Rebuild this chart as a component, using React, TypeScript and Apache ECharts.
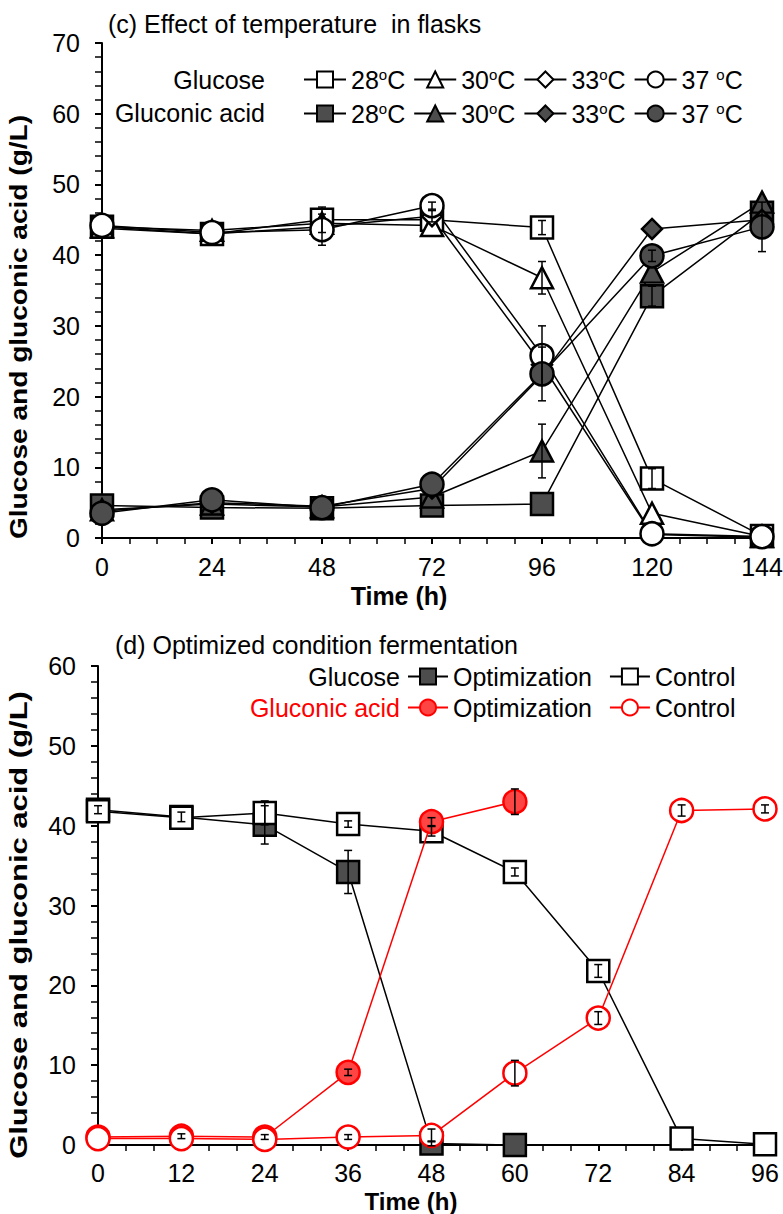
import React, { useEffect, useRef } from "react";
import * as echarts from "echarts";

const FONT = '"Liberation Sans", Arial, Helvetica, sans-serif';

// ---------- Panel (c): effect of temperature in flasks ----------
const hoursC = [0, 24, 48, 72, 96, 120, 144];
const tempLabels = ["28", "30", "33", "37"];
const glucose28 = [44.0, 43.0, 45.0, 45.0, 43.9, 8.4, 0.3];
const glucose30 = [44.0, 43.5, 44.5, 44.2, 36.8, 3.5, 0.2];
const glucose33 = [43.8, 43.0, 44.0, 45.5, 24.5, 0.5, 0.1];
const glucose37 = [44.2, 43.2, 43.6, 47.0, 25.8, 0.6, 0.2];
const gluconic28 = [4.6, 4.3, 4.2, 4.6, 4.8, 34.2, 46.0];
const gluconic30 = [4.0, 4.8, 4.4, 5.8, 12.3, 37.6, 47.5];
const gluconic33 = [3.8, 5.0, 4.5, 7.0, 23.0, 43.7, 45.0];
const gluconic37 = [3.5, 5.4, 4.3, 7.6, 23.2, 39.9, 44.0];
const errGlucose28 = [0, 0, 1.8, 0, 1.0, 1.4, 0];
const errGlucose30 = [0, 0, 0, 0, 2.3, 0, 0];
const errGlucose33 = [0, 0, 0, 0.8, 0, 0, 0];
const errGlucose37 = [0, 0, 2.2, 0.5, 4.2, 0, 0];
const errGluconic28 = [0, 0, 0, 0, 0, 1.4, 0];
const errGluconic30 = [0, 0, 0, 0, 3.8, 0, 0];
const errGluconic33 = [0, 0, 0, 0, 0, 0, 0];
const errGluconic37 = [0, 0, 0, 0, 3.8, 0.8, 3.5];
const yTicksC = [0, 70, 10];
const xTicksC = [0, 144, 24];

// ---------- Panel (d): optimized condition fermentation ----------
const hoursD = [0, 12, 24, 36, 48, 60, 72, 84, 96];
const glucoseOpt = [42.0, 41.1, 40.1, 34.2, 0.2, 0.0];
const glucoseCtrl = [41.8, 41.0, 41.6, 40.2, 39.3, 34.2, 21.8, 0.8, 0.1];
const gluconicOpt = [1.0, 1.1, 1.0, 9.1, 40.5, 43.0];
const gluconicCtrl = [0.8, 0.8, 0.7, 1.0, 1.2, 9.0, 15.9, 41.9, 42.1];
const errGlucoseOpt = [0.5, 0.6, 2.4, 2.7, 0.3, 0];
const errGlucoseCtrl = [0, 0, 1.5, 0.4, 0.6, 0.5, 0.8, 0, 0];
const errGluconicOpt = [0, 0.3, 0.3, 0.4, 0.5, 1.6];
const errGluconicCtrl = [0, 0, 0, 0.3, 0.8, 1.6, 0.8, 0.7, 0.5];
const yTicksD = [0, 60, 10];
const xTicksD = [0, 96, 12];

const pairs = (xs: number[], ys: number[]) => ys.map((y, i) => [xs[i], y]);
const errData = (xs: number[], ys: number[], es: number[]) =>
  ys.map((y, i) => [xs[i], y - es[i], y + es[i], es[i]]).filter((d) => d[3] > 0);

function lineSeries(
  name: string, xs: number[], ys: number[], symbol: string, size: any,
  fill: string, stroke: string, lineColor: string, g: number, z: number
) {
  return {
    type: "line", name, xAxisIndex: g, yAxisIndex: g,
    data: pairs(xs, ys), symbol, symbolSize: size, showSymbol: true, clip: false,
    lineStyle: { color: lineColor, width: 1.5 },
    itemStyle: { color: fill, borderColor: stroke, borderWidth: 2.5 },
    emphasis: { disabled: true }, z, silent: true,
  };
}

function errSeries(data: number[][], g: number) {
  return {
    type: "custom", xAxisIndex: g, yAxisIndex: g, data, z: 20, silent: true, clip: false,
    encode: { x: 0, y: [1, 2] },
    renderItem: (_p: any, api: any) => {
      const x = api.value(0);
      const lo = api.coord([x, api.value(1)]);
      const hi = api.coord([x, api.value(2)]);
      const w = 4;
      const style = { stroke: "#000", lineWidth: 1.5 };
      return {
        type: "group",
        children: [
          { type: "line", shape: { x1: lo[0], y1: lo[1], x2: hi[0], y2: hi[1] }, style },
          { type: "line", shape: { x1: lo[0] - w, y1: lo[1], x2: lo[0] + w, y2: lo[1] }, style },
          { type: "line", shape: { x1: hi[0] - w, y1: hi[1], x2: hi[0] + w, y2: hi[1] }, style },
        ],
      };
    },
  };
}

function xAxis(g: number, t: number[], minorSplit: number, margin: number) {
  return {
    type: "value", gridIndex: g, min: t[0], max: t[1], interval: t[2], position: "bottom",
    axisLine: { onZero: false, lineStyle: { color: "#000", width: 2 } },
    axisTick: { show: true, inside: false, length: 6, lineStyle: { color: "#000", width: 2 } },
    minorTick: { show: true, splitNumber: minorSplit, length: 6, lineStyle: { color: "#000", width: 1.5 } },
    splitLine: { show: false },
    minorSplitLine: { show: false },
    axisLabel: { fontSize: 25, color: "#000", fontFamily: FONT, margin, hideOverlap: false },
  };
}
function yAxis(g: number, t: number[], margin: number) {
  return {
    type: "value", gridIndex: g, min: t[0], max: t[1], interval: t[2], position: "left",
    axisLine: { show: true, onZero: false, lineStyle: { color: "#000", width: 2 } },
    axisTick: { show: true, inside: false, length: 7, lineStyle: { color: "#000", width: 2 } },
    minorTick: { show: true, splitNumber: 5, length: 7, lineStyle: { color: "#000", width: 1.5 } },
    splitLine: { show: false },
    minorSplitLine: { show: false },
    axisLabel: { fontSize: 25, color: "#000", fontFamily: FONT, margin },
  };
}

const legendFormatter = (name: string) => {
  const t = name.split("|")[1];
  if (t === "37") return "37 {sup|o}C";
  if (/^\d+$/.test(t)) return t + "{sup|o}C";
  return t;
};

function legend(data: string[], left: number, top: number, itemWidth: number, itemGap: number) {
  return {
    data, left, top, orient: "horizontal", selectedMode: false, padding: 0,
    itemWidth, itemHeight: 20, itemGap,
    formatter: legendFormatter,
    textStyle: {
      fontSize: 25, fontFamily: FONT, color: "#000",
      rich: { sup: { fontSize: 15, fontFamily: FONT, color: "#000", verticalAlign: "top" } },
    },
  };
}

function text(x: number, y: number, t: string, opts: any = {}) {
  const { align = "left", bold = false, color = "#000", size = 25, ...rest } = opts;
  return {
    type: "text", x, y, ...rest,
    style: {
      text: t, fill: color, fontSize: size, fontFamily: FONT,
      fontWeight: bold ? "bold" : "normal", align, verticalAlign: "middle",
    },
  };
}

function buildOption() {
  const GRAY = "#4d4d4d";
  const RED = "#ff0000";
  const cSeries = [
    lineSeries("G|28", hoursC, glucose28, "rect", 22, "#fff", "#000", "#000", 0, 2),
    lineSeries("G|30", hoursC, glucose30, "triangle", [22, 21], "#fff", "#000", "#000", 0, 2),
    lineSeries("G|33", hoursC, glucose33, "diamond", 20, "#fff", "#000", "#000", 0, 2),
    lineSeries("G|37", hoursC, glucose37, "circle", 23, "#fff", "#000", "#000", 0, 2),
    lineSeries("A|28", hoursC, gluconic28, "rect", 22, GRAY, "#000", "#000", 0, 3),
    lineSeries("A|30", hoursC, gluconic30, "triangle", [22, 21], GRAY, "#000", "#000", 0, 3),
    lineSeries("A|33", hoursC, gluconic33, "diamond", 20, GRAY, "#000", "#000", 0, 3),
    lineSeries("A|37", hoursC, gluconic37, "circle", 23, GRAY, "#000", "#000", 0, 3),
    errSeries(
      [
        ...errData(hoursC, glucose28, errGlucose28),
        ...errData(hoursC, glucose30, errGlucose30),
        ...errData(hoursC, glucose33, errGlucose33),
        ...errData(hoursC, glucose37, errGlucose37),
        ...errData(hoursC, gluconic28, errGluconic28),
        ...errData(hoursC, gluconic30, errGluconic30),
        ...errData(hoursC, gluconic33, errGluconic33),
        ...errData(hoursC, gluconic37, errGluconic37),
      ],
      0
    ),
  ];
  const dSeries = [
    lineSeries("DG|Optimization", hoursD, glucoseOpt, "rect", 22, GRAY, "#000", "#000", 1, 2),
    lineSeries("DG|Control", hoursD, glucoseCtrl, "rect", 22, "#fff", "#000", "#000", 1, 2),
    lineSeries("DA|Optimization", hoursD, gluconicOpt, "circle", 23, "#f44", RED, RED, 1, 3),
    lineSeries("DA|Control", hoursD, gluconicCtrl, "circle", 23, "#fff", RED, RED, 1, 3),
    errSeries(
      [
        ...errData(hoursD, glucoseOpt, errGlucoseOpt),
        ...errData(hoursD, glucoseCtrl, errGlucoseCtrl),
        ...errData(hoursD, gluconicOpt, errGluconicOpt),
        ...errData(hoursD, gluconicCtrl, errGluconicCtrl),
      ],
      1
    ),
  ];

  const yTitle = "Glucose and gluconic acid (g/L)";
  return {
    animation: false,
    backgroundColor: "#fff",
    textStyle: { fontFamily: FONT },
    grid: [
      { left: 102, top: 43, width: 660, height: 495, containLabel: false, outerBoundsMode: "none" },
      { left: 98, top: 666, width: 667, height: 479, containLabel: false, outerBoundsMode: "none" },
    ],
    xAxis: [xAxis(0, xTicksC, 4, 16), xAxis(1, xTicksD, 3, 15)],
    yAxis: [yAxis(0, yTicksC, 22), yAxis(1, yTicksD, 22)],
    legend: [
      legend(tempLabels.map((t) => "G|" + t), 303, 67, 42, 8),
      legend(tempLabels.map((t) => "A|" + t), 303, 101, 42, 8),
      legend(["DG|Optimization", "DG|Control"], 407, 664, 40, 17),
      legend(["DA|Optimization", "DA|Control"], 407, 695, 40, 17),
    ],
    graphic: [
      text(108, 24, "(c) Effect of temperature  in flasks"),
      text(265, 80, "Glucose", { align: "right" }),
      text(265, 113, "Gluconic acid", { align: "right" }),
      text(399, 596, "Time (h)", { align: "center", bold: true }),
      text(19, 327, yTitle, { align: "center", bold: true, size: 24, rotation: Math.PI / 2, scaleX: 1.17 }),
      text(115, 645, "(d) Optimized condition fermentation"),
      text(400, 677, "Glucose", { align: "right" }),
      text(400, 708, "Gluconic acid", { align: "right", color: RED }),
      text(411, 1201, "Time (h)", { align: "center", bold: true, size: 24 }),
      text(19, 925, yTitle, { align: "center", bold: true, size: 24, rotation: Math.PI / 2, scaleX: 1.29 }),
    ],
    series: [...cSeries, ...dSeries],
  };
}

export default function App() {
  const ref = useRef<HTMLDivElement>(null);
  useEffect(() => {
    document.body.style.margin = "0";
    const chart = echarts.init(ref.current as HTMLDivElement, null, { renderer: "svg" });
    chart.setOption(buildOption() as any);
    return () => chart.dispose();
  }, []);
  return <div ref={ref} style={{ width: 783, height: 1214, background: "#fff" }} />;
}
